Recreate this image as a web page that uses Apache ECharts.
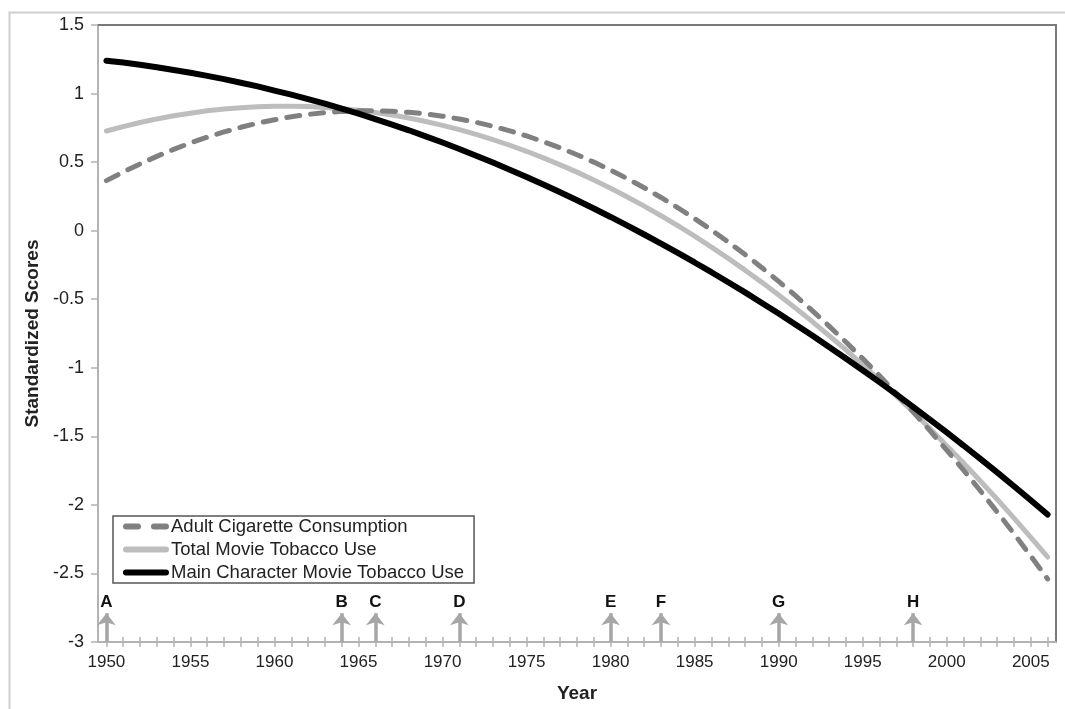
<!DOCTYPE html>
<html>
<head>
<meta charset="utf-8">
<script src="https://cdn.jsdelivr.net/npm/echarts@6/dist/echarts.min.js"></script>
<style>
html,body{margin:0;padding:0;background:#fff;}
#chart{width:1065px;height:709px;}
</style>
</head>
<body>
<div id="chart"></div>
<script>
const years = ['1950','1951','1952','1953','1954','1955','1956','1957','1958','1959',
'1960','1961','1962','1963','1964','1965','1966','1967','1968','1969',
'1970','1971','1972','1973','1974','1975','1976','1977','1978','1979',
'1980','1981','1982','1983','1984','1985','1986','1987','1988','1989',
'1990','1991','1992','1993','1994','1995','1996','1997','1998','1999',
'2000','2001','2002','2003','2004','2005','2006'];

const adultCigarette = [0.365,0.428,0.487,0.542,0.593,0.640,0.682,0.720,0.754,0.784,
0.809,0.831,0.848,0.861,0.870,0.875,0.875,0.871,0.863,0.851,
0.835,0.814,0.790,0.761,0.728,0.691,0.649,0.604,0.554,0.500,
0.442,0.379,0.313,0.242,0.167,0.088,0.005,-0.083,-0.174,-0.270,
-0.370,-0.474,-0.583,-0.696,-0.812,-0.933,-1.058,-1.188,-1.321,-1.459,
-1.601,-1.747,-1.897,-2.052,-2.210,-2.373,-2.540];

const totalMovie = [0.727,0.759,0.789,0.815,0.838,0.857,0.874,0.887,0.897,0.904,
0.907,0.908,0.905,0.899,0.890,0.878,0.862,0.843,0.822,0.796,
0.768,0.737,0.702,0.664,0.623,0.579,0.531,0.480,0.427,0.369,
0.309,0.246,0.179,0.109,0.036,-0.040,-0.120,-0.202,-0.288,-0.377,
-0.469,-0.565,-0.663,-0.765,-0.870,-0.979,-1.090,-1.205,-1.322,-1.443,
-1.568,-1.695,-1.826,-1.959,-2.096,-2.237,-2.380];

const mainCharacter = [1.240,1.226,1.210,1.192,1.172,1.152,1.129,1.105,1.079,1.052,
1.022,0.992,0.960,0.926,0.890,0.853,0.814,0.774,0.732,0.688,
0.643,0.596,0.547,0.497,0.445,0.392,0.337,0.280,0.222,0.162,
0.100,0.037,-0.028,-0.094,-0.162,-0.232,-0.303,-0.376,-0.450,-0.527,
-0.604,-0.684,-0.765,-0.848,-0.932,-1.018,-1.105,-1.194,-1.285,-1.378,
-1.472,-1.567,-1.664,-1.763,-1.864,-1.966,-2.070];

const seriesNames = ['Adult Cigarette Consumption','Total Movie Tobacco Use','Main Character Movie Tobacco Use'];

const eventYears = ['1950','1964','1966','1971','1980','1983','1990','1998'];
const eventLabels = ['A','B','C','D','E','F','G','H'];
const eventBase = -3;
const eventTip = -2.79;

const FONT = 'Liberation Sans, Arial, sans-serif';

const chart = echarts.init(document.getElementById('chart'), null, {renderer:'canvas'});

const markData = eventYears.map((y, i) => [
  {coord:[y, eventBase]},
  {coord:[y, eventTip], label:{formatter: eventLabels[i]}}
]);

const dashIcon = 'path://M3,0 h12 a3,3 0 0 1 0,6 h-12 a3,3 0 0 1 0,-6 z M31,0 h12 a3,3 0 0 1 0,6 h-12 a3,3 0 0 1 0,-6 z';
const solidIcon = 'path://M3,0 h40 a3,3 0 0 1 0,6 h-40 a3,3 0 0 1 0,-6 z';

const option = {
  backgroundColor:'#ffffff',
  animation:false,
  textStyle:{fontFamily:FONT},
  graphic:[{
    type:'rect', left:7, top:10, z:-10,
    shape:{width:1080, height:720},
    style:{fill:'none', stroke:'#cfcfcf', lineWidth:2}
  }],
  grid:{left:98, top:25, right:9, bottom:67, show:false},
  legend:{
    orient:'vertical', left:113, top:516,
    padding:[1,10,1,10],
    itemWidth:46, itemHeight:6, itemGap:4,
    borderColor:'#555', borderWidth:1.5, backgroundColor:'#fff',
    textStyle:{fontSize:18.5, color:'#222', fontFamily:FONT, lineHeight:18, padding:[0,0,0,-3]},
    data:[
      {name:seriesNames[0], icon:dashIcon},
      {name:seriesNames[1], icon:solidIcon},
      {name:seriesNames[2], icon:solidIcon}
    ]
  },
  xAxis:[{
    type:'category', data:years, boundaryGap:true, position:'bottom',
    axisLine:{show:true, onZero:false, lineStyle:{color:'#b3b3b3', width:2}},
    axisTick:{show:true, interval:0, alignWithLabel:true, length:5, lineStyle:{color:'#b3b3b3', width:1.5}},
    axisLabel:{interval:4, fontSize:17, color:'#222', margin:12, fontFamily:FONT},
    splitLine:{show:false},
    name:'Year', nameLocation:'middle', nameGap:42,
    nameTextStyle:{fontSize:19, fontWeight:'bold', color:'#222', fontFamily:FONT}
  },{
    type:'category', data:years, boundaryGap:true, position:'bottom',
    axisLine:{show:false, onZero:false},
    axisTick:{show:true, inside:true, interval:0, alignWithLabel:true, length:5, lineStyle:{color:'#b3b3b3', width:1.5}},
    axisLabel:{show:false},
    splitLine:{show:false}
  },{
    type:'category', data:years, boundaryGap:true, position:'top',
    axisLine:{show:true, onZero:false, lineStyle:{color:'#7a7a7a', width:2}},
    axisTick:{show:false}, axisLabel:{show:false}, splitLine:{show:false}
  }],
  yAxis:[{
    type:'value', min:-3, max:1.5, interval:0.5, position:'left',
    axisLine:{show:true, onZero:false, lineStyle:{color:'#b3b3b3', width:2}},
    axisTick:{show:true, length:7, lineStyle:{color:'#b3b3b3', width:1.5}},
    axisLabel:{fontSize:18, color:'#222', margin:14, fontFamily:FONT},
    splitLine:{show:false},
    name:'Standardized Scores', nameLocation:'middle', nameGap:47,
    nameTextStyle:{fontSize:19, fontWeight:'bold', color:'#222', fontFamily:FONT}
  },{
    type:'value', min:-3, max:1.5, interval:0.5, position:'right',
    axisLine:{show:true, onZero:false, lineStyle:{color:'#7a7a7a', width:2}},
    axisTick:{show:false}, axisLabel:{show:false}, splitLine:{show:false}
  }],
  series:[{
    name:seriesNames[0], type:'line', data:adultCigarette, xAxisIndex:0, yAxisIndex:0,
    showSymbol:false, symbol:'none', smooth:false, z:3,
    lineStyle:{color:'#808080', width:5, type:[13,11], cap:'round'},
    itemStyle:{color:'#808080'}
  },{
    name:seriesNames[1], type:'line', data:totalMovie, xAxisIndex:0, yAxisIndex:0,
    showSymbol:false, symbol:'none', smooth:false, z:2,
    lineStyle:{color:'#bdbdbd', width:5, cap:'round'},
    itemStyle:{color:'#bdbdbd'}
  },{
    name:seriesNames[2], type:'line', data:mainCharacter, xAxisIndex:0, yAxisIndex:0,
    showSymbol:false, symbol:'none', smooth:false, z:4,
    lineStyle:{color:'#000000', width:6, cap:'round'},
    itemStyle:{color:'#000000'},
    markLine:{
      silent:true, animation:false,
      symbol:['none','arrow'], symbolSize:[14,12],
      lineStyle:{color:'#a6a6a6', width:3.5, type:'solid'},
      label:{show:true, position:'end', distance:2, fontSize:17, fontWeight:'bold', color:'#111', fontFamily:FONT},
      data:markData
    }
  }]
};
chart.setOption(option);
</script>
</body>
</html>
